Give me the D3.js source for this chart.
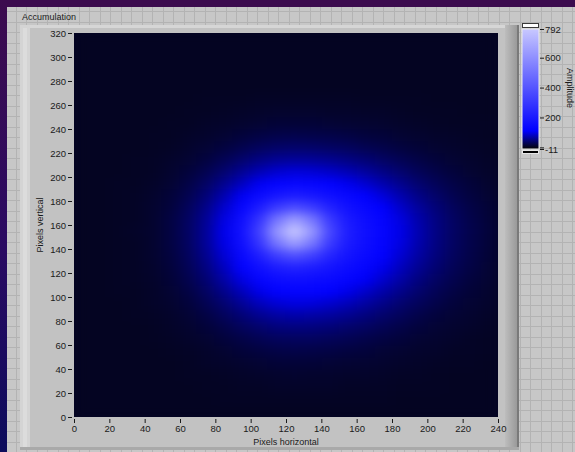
<!DOCTYPE html>
<html>
<head>
<meta charset="utf-8">
<script src="https://cdn.jsdelivr.net/npm/d3@7"></script>
<style>
  html, body { margin: 0; padding: 0; background: #c6c6c6; overflow: hidden; }
  svg { display: block; font-family: "Liberation Sans", Arial, sans-serif; }
</style>
</head>
<body>
<svg id="chart"></svg>
<script>
// cell centres (10 x 10 pixel bins)
const xCells = [5, 15, 25, 35, 45, 55, 65, 75, 85, 95, 105, 115, 125, 135, 145, 155, 165, 175, 185, 195, 205, 215, 225, 235];
const yCells = [5, 15, 25, 35, 45, 55, 65, 75, 85, 95, 105, 115, 125, 135, 145, 155, 165, 175, 185, 195, 205, 215, 225, 235, 245, 255, 265, 275, 285, 295, 305, 315];

// accumulated amplitude, one row per yCells entry (bottom row first)
const amplitude = [
  [4, 4, 4, 4, 4, 4, 4, 4, 4, 4, 4, 4, 4, 4, 4, 4, 4, 4, 4, 4, 4, 4, 4, 4],
  [4, 4, 4, 4, 4, 4, 4, 4, 5, 5, 5, 5, 5, 5, 5, 5, 5, 5, 4, 4, 4, 4, 4, 4],
  [4, 4, 4, 4, 4, 4, 4, 5, 5, 6, 6, 7, 7, 7, 7, 6, 6, 6, 5, 5, 5, 4, 4, 4],
  [4, 4, 4, 4, 4, 4, 5, 5, 6, 7, 8, 9, 10, 9, 9, 8, 8, 7, 6, 6, 5, 4, 4, 4],
  [4, 4, 4, 4, 4, 4, 5, 7, 8, 10, 12, 14, 14, 14, 13, 12, 11, 10, 8, 7, 6, 5, 5, 4],
  [4, 4, 4, 4, 4, 5, 6, 8, 11, 15, 18, 21, 22, 21, 20, 18, 16, 13, 11, 9, 8, 6, 6, 5],
  [4, 4, 4, 4, 5, 6, 8, 11, 16, 21, 27, 31, 32, 32, 30, 27, 23, 19, 16, 12, 10, 8, 6, 5],
  [4, 4, 4, 4, 5, 7, 10, 15, 22, 31, 39, 46, 48, 47, 44, 39, 34, 28, 22, 17, 13, 10, 8, 6],
  [4, 4, 4, 5, 6, 8, 13, 20, 31, 43, 56, 65, 69, 67, 63, 56, 48, 39, 31, 23, 17, 13, 10, 7],
  [4, 4, 4, 5, 7, 10, 16, 27, 41, 59, 77, 90, 95, 93, 86, 77, 65, 53, 41, 31, 23, 16, 12, 9],
  [4, 4, 5, 5, 7, 12, 20, 34, 54, 77, 100, 118, 125, 122, 113, 101, 85, 69, 54, 40, 29, 20, 14, 10],
  [4, 4, 5, 6, 8, 14, 25, 42, 67, 96, 127, 152, 161, 156, 143, 126, 107, 86, 67, 49, 35, 25, 17, 12],
  [4, 4, 5, 6, 9, 16, 29, 49, 79, 116, 160, 204, 226, 210, 179, 152, 127, 102, 79, 58, 42, 29, 20, 13],
  [4, 4, 5, 6, 10, 18, 32, 55, 90, 137, 213, 322, 383, 328, 235, 178, 145, 116, 89, 66, 47, 32, 22, 14],
  [4, 4, 5, 6, 10, 19, 34, 60, 98, 158, 287, 511, 645, 518, 311, 202, 157, 125, 96, 71, 50, 34, 23, 15],
  [4, 4, 5, 7, 10, 19, 35, 61, 101, 168, 327, 618, 792, 625, 352, 213, 161, 128, 99, 73, 51, 35, 24, 16],
  [4, 4, 5, 6, 10, 19, 34, 59, 96, 157, 285, 508, 642, 515, 308, 200, 155, 123, 95, 70, 50, 34, 23, 15],
  [4, 4, 5, 6, 10, 17, 31, 53, 86, 131, 204, 312, 373, 318, 225, 169, 137, 110, 85, 63, 45, 31, 21, 14],
  [4, 4, 5, 6, 9, 15, 26, 44, 71, 104, 144, 186, 206, 190, 161, 136, 114, 92, 71, 52, 38, 26, 18, 12],
  [4, 4, 5, 5, 7, 12, 21, 35, 55, 79, 104, 125, 133, 129, 118, 103, 88, 71, 55, 41, 30, 21, 15, 10],
  [4, 4, 4, 5, 6, 10, 16, 26, 40, 57, 74, 87, 92, 90, 83, 74, 63, 51, 40, 30, 22, 16, 11, 8],
  [4, 4, 4, 5, 6, 8, 12, 18, 28, 39, 50, 58, 61, 60, 56, 50, 43, 35, 28, 21, 16, 12, 9, 7],
  [4, 4, 4, 4, 5, 6, 9, 13, 18, 25, 32, 37, 39, 38, 35, 32, 27, 23, 18, 14, 11, 9, 7, 6],
  [4, 4, 4, 4, 5, 5, 7, 9, 12, 16, 20, 23, 24, 23, 22, 20, 17, 15, 12, 10, 8, 7, 6, 5],
  [4, 4, 4, 4, 4, 5, 5, 7, 8, 10, 12, 14, 14, 14, 13, 12, 11, 10, 8, 7, 6, 5, 5, 5],
  [4, 4, 4, 4, 4, 4, 5, 5, 6, 7, 8, 9, 9, 9, 8, 8, 7, 7, 6, 5, 5, 5, 4, 4],
  [4, 4, 4, 4, 4, 4, 4, 5, 5, 5, 6, 6, 6, 6, 6, 6, 5, 5, 5, 5, 4, 4, 4, 4],
  [4, 4, 4, 4, 4, 4, 4, 4, 4, 4, 4, 4, 4, 4, 4, 4, 4, 4, 4, 4, 4, 4, 4, 4],
  [4, 4, 4, 4, 4, 4, 4, 4, 4, 4, 4, 4, 4, 4, 4, 4, 4, 4, 4, 4, 4, 4, 4, 4],
  [4, 4, 4, 4, 4, 4, 4, 4, 4, 4, 4, 4, 4, 4, 4, 4, 4, 4, 4, 4, 4, 4, 4, 4],
  [4, 4, 4, 4, 4, 4, 4, 4, 4, 4, 4, 4, 4, 4, 4, 4, 4, 4, 4, 4, 4, 4, 4, 4],
  [4, 4, 4, 4, 4, 4, 4, 4, 4, 4, 4, 4, 4, 4, 4, 4, 4, 4, 4, 4, 4, 4, 4, 4]
];

const xTicks = [0, 20, 40, 60, 80, 100, 120, 140, 160, 180, 200, 220, 240];
const yTicks = [0, 20, 40, 60, 80, 100, 120, 140, 160, 180, 200, 220, 240, 260, 280, 300, 320];
const scaleTicks  = [-11, 0, 200, 400, 600, 792];
const scaleLabels = [-11, 200, 400, 600, 792];

const W = 575, H = 452;
const plot = { left: 74, right: 498, top: 33, bottom: 417 };

const svg = d3.select('#chart').attr('width', W).attr('height', H);
const defs = svg.append('defs');

// ---- front panel background: grey grid + purple window edge
svg.append('rect').attr('width', W).attr('height', H).attr('fill', '#c7c7c7');

const gridStep = 10.5;
svg.append('g')
  .selectAll('line.gv')
  .data(d3.range(5, W, gridStep))
  .join('line')
  .attr('x1', d => Math.round(d) + 0.5).attr('x2', d => Math.round(d) + 0.5)
  .attr('y1', 0).attr('y2', H)
  .attr('stroke', '#b3b3b3');
svg.append('g')
  .selectAll('line.gh')
  .data(d3.range(0.5, H, gridStep))
  .join('line')
  .attr('y1', d => Math.round(d) + 0.5).attr('y2', d => Math.round(d) + 0.5)
  .attr('x1', 0).attr('x2', W)
  .attr('stroke', '#b3b3b3');

const edgeGrad = defs.append('linearGradient')
  .attr('id', 'edge').attr('x1', 0).attr('y1', 0).attr('x2', 0).attr('y2', 1);
edgeGrad.append('stop').attr('offset', '0%').attr('stop-color', '#3c0b4e');
edgeGrad.append('stop').attr('offset', '55%').attr('stop-color', '#2a0a62');
edgeGrad.append('stop').attr('offset', '100%').attr('stop-color', '#0c0c5c');

svg.append('rect').attr('x', 0).attr('y', 0).attr('width', W).attr('height', 7).attr('fill', '#3c0b4e');
svg.append('rect').attr('x', 0).attr('y', 0).attr('width', 7).attr('height', H).attr('fill', 'url(#edge)');

svg.append('text')
  .attr('x', 22).attr('y', 20)
  .attr('font-size', 9).attr('fill', '#1a1a1a')
  .text('Accumulation');

// ---- graph frame with bevel
svg.append('rect').attr('x', 20).attr('y', 25).attr('width', 499).attr('height', 425).attr('fill', '#c2c2c2');
svg.append('rect').attr('x', 20).attr('y', 25).attr('width', 499).attr('height', 3).attr('fill', '#d6d6d6');
svg.append('rect').attr('x', 20).attr('y', 25).attr('width', 10).attr('height', 425).attr('fill', '#d4d4d4');
svg.append('rect').attr('x', 23).attr('y', 28).attr('width', 4).attr('height', 419).attr('fill', '#dcdcdc');

const rightGrad = defs.append('linearGradient')
  .attr('id', 'rbevel').attr('x1', 0).attr('y1', 0).attr('x2', 1).attr('y2', 0);
rightGrad.append('stop').attr('offset', '0%').attr('stop-color', '#bdbdbd');
rightGrad.append('stop').attr('offset', '100%').attr('stop-color', '#9a9a9a');
svg.append('rect').attr('x', 505).attr('y', 25).attr('width', 12).attr('height', 425).attr('fill', 'url(#rbevel)');
svg.append('rect').attr('x', 517).attr('y', 25).attr('width', 2).attr('height', 425).attr('fill', '#7a7a7a');
svg.append('rect').attr('x', 20).attr('y', 447).attr('width', 499).attr('height', 3).attr('fill', '#a9a9a9');

// ---- scales
const x = d3.scaleLinear().domain([0, 240]).range([plot.left, plot.right]);
const y = d3.scaleLinear().domain([0, 320]).range([plot.bottom, plot.top]);

const color = d3.scaleLinear()
  .domain([-11, 0, 110, 792])
  .range(['#000000', '#04041a', '#0000ff', '#c8c8ff'])
  .clamp(true);

// ---- intensity image
defs.append('clipPath').attr('id', 'plotclip')
  .append('rect')
  .attr('x', x(0)).attr('y', y(320))
  .attr('width', x(240) - x(0)).attr('height', y(0) - y(320));

const blur = defs.append('filter').attr('id', 'smooth')
  .attr('x', '-5%').attr('y', '-5%').attr('width', '110%').attr('height', '110%')
  .attr('color-interpolation-filters', 'sRGB');
blur.append('feGaussianBlur').attr('stdDeviation', '7 5');

const plotG = svg.append('g').attr('clip-path', 'url(#plotclip)');
plotG.append('rect')
  .attr('x', x(0)).attr('y', y(320))
  .attr('width', x(240) - x(0)).attr('height', y(0) - y(320))
  .attr('fill', color(4));

const cells = [];
amplitude.forEach((row, j) => row.forEach((v, i) => cells.push({ cx: xCells[i], cy: yCells[j], v })));

plotG.append('g')
  .attr('filter', 'url(#smooth)')
  .selectAll('rect')
  .data(cells)
  .join('rect')
  .attr('x', d => x(d.cx - 5) - 0.5)
  .attr('y', d => y(d.cy + 5) - 0.5)
  .attr('width', x(10) - x(0) + 1)
  .attr('height', y(0) - y(10) + 1)
  .attr('fill', d => color(d.v));

// ---- axes (LabVIEW style: ticks only, no domain line)
const ink = '#1a1a1a';

const yAxis = svg.append('g')
  .attr('transform', `translate(${plot.left - 2},0)`)
  .call(d3.axisLeft(y).tickValues(yTicks).tickSize(4).tickPadding(2));
yAxis.select('.domain').remove();
yAxis.selectAll('line').attr('stroke', ink);
yAxis.selectAll('text').attr('font-size', 9.5).attr('fill', ink).attr('font-family', null);

const xAxis = svg.append('g')
  .attr('transform', `translate(0,${plot.bottom + 2})`)
  .call(d3.axisBottom(x).tickValues(xTicks).tickSize(4).tickPadding(2));
xAxis.select('.domain').remove();
xAxis.selectAll('line').attr('stroke', ink);
xAxis.selectAll('text').attr('font-size', 9.5).attr('fill', ink).attr('font-family', null);

svg.append('text')
  .attr('x', (plot.left + plot.right) / 2).attr('y', 445)
  .attr('text-anchor', 'middle')
  .attr('font-size', 9).attr('fill', ink)
  .text('Pixels horizontal');

svg.append('text')
  .attr('transform', `translate(43,${(plot.top + plot.bottom) / 2}) rotate(-90)`)
  .attr('text-anchor', 'middle')
  .attr('font-size', 9).attr('fill', ink)
  .text('Pixels vertical');

// ---- colour scale ramp
const cb = d3.scaleLinear().domain([-11, 792]).range([149, 29]);
const cbX = 522, cbW = 17;

const ramp = defs.append('linearGradient')
  .attr('id', 'ramp').attr('x1', 0).attr('y1', 1).attr('x2', 0).attr('y2', 0);
ramp.selectAll('stop')
  .data(color.domain())
  .join('stop')
  .attr('offset', d => (cb(-11) - cb(d)) / (cb(-11) - cb(792)))
  .attr('stop-color', d => color(d));

svg.append('rect')
  .attr('x', cbX + 0.5).attr('y', cb(792) - 5.5)
  .attr('width', cbW - 1).attr('height', 4)
  .attr('fill', '#ffffff').attr('stroke', '#3a3a3a');

svg.append('rect')
  .attr('x', cbX).attr('y', cb(792))
  .attr('width', cbW).attr('height', cb(-11) - cb(792))
  .attr('fill', 'url(#ramp)')
  .attr('stroke', '#ececec').attr('stroke-width', 1);

svg.append('rect')
  .attr('x', cbX + 0.5).attr('y', cb(-11) + 1.5)
  .attr('width', cbW - 1).attr('height', 3)
  .attr('fill', '#000000').attr('stroke', '#e6e6e6');

const cAxis = svg.append('g')
  .attr('transform', `translate(${cbX + cbW + 1},0)`)
  .call(d3.axisRight(cb).tickValues(scaleTicks).tickSize(4).tickPadding(1)
    .tickFormat(d => scaleLabels.includes(d) ? d : ''));
cAxis.select('.domain').remove();
cAxis.selectAll('line').attr('stroke', ink);
cAxis.selectAll('text').attr('font-size', 9.5).attr('fill', ink).attr('font-family', null);

svg.append('text')
  .attr('transform', `translate(567,${(cb(792) + cb(-11)) / 2 - 1}) rotate(90)`)
  .attr('text-anchor', 'middle')
  .attr('font-size', 9).attr('fill', ink)
  .text('Amplitude');
</script>
</body>
</html>
